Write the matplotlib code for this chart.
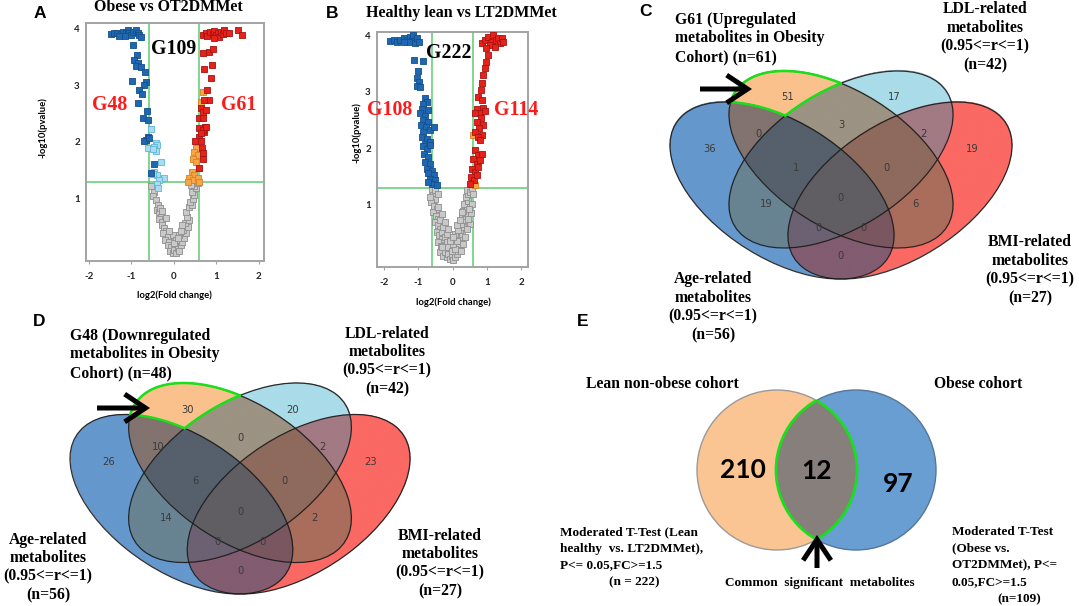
import numpy as np
import matplotlib
matplotlib.use("Agg")
import matplotlib.pyplot as plt
from matplotlib.patches import Ellipse, Circle, FancyArrowPatch

plt.rcParams['axes.unicode_minus'] = False

# ======================= DATA =======================
A_title = "Obese vs OT2DMMet"
B_title = "Healthy lean vs LT2DMMet"
A_tags = ["G48", "G109", "G61"]
B_tags = ["G108", "G222", "G114"]
x_ticks = [-2, -1, 0, 1, 2]
y_ticks = [1, 2, 3, 4]
fc_cut = 0.585   # log2(1.5)
p_cut = 1.3      # -log10(0.05)

# Panel A volcano points (log2 FC, -log10 p)
A_down = [(-1.48, 3.89), (-1.40, 3.91), (-1.33, 3.92), (-1.25, 3.89), (-1.19, 3.94), (-1.13, 3.91),
          (-1.09, 3.96), (-1.05, 3.92), (-1.01, 3.88), (-0.97, 3.94), (-0.89, 3.96), (-0.85, 3.91),
          (-0.82, 3.88), (-0.78, 3.85), (-1.16, 3.86), (-1.29, 3.87), (-0.97, 3.70), (-0.88, 3.53),
          (-0.93, 3.44), (-0.85, 3.38), (-0.89, 3.34), (-0.78, 3.32), (-0.67, 3.23), (-0.99, 3.08),
          (-0.66, 3.06), (-0.70, 3.00), (-0.82, 2.91), (-0.75, 2.85), (-0.85, 2.69), (-0.64, 2.55),
          (-0.72, 2.42), (-0.60, 2.39), (-0.62, 2.09), (-0.66, 2.04), (-0.70, 2.02), (-0.58, 2.07),
          (-0.46, 1.61), (-0.54, 1.45)]
A_down_small = [(-0.54, 2.23), (-0.42, 1.98), (-0.39, 1.95), (-0.46, 1.92), (-0.62, 1.90), (-0.42, 1.85),
                (-0.50, 1.87), (-0.31, 1.64), (-0.46, 1.48), (-0.39, 1.42), (-0.50, 1.43), (-0.23, 1.36),
                (-0.35, 1.33), (-0.39, 1.26), (-0.37, 1.19)]
A_ns = [(-0.54, 1.22), (-0.46, 1.13), (-0.50, 1.06), (-0.42, 0.98), (-0.38, 0.89), (-0.41, 0.81),
        (-0.34, 0.77), (-0.31, 0.69), (-0.36, 0.64), (-0.27, 0.60), (-0.28, 0.54), (-0.23, 0.49),
        (-0.19, 0.44), (-0.25, 0.40), (-0.15, 0.34), (-0.20, 0.28), (-0.11, 0.25), (-0.15, 0.19),
        (-0.07, 0.16), (-0.09, 0.09), (-0.03, 0.05), (0.01, 0.11), (0.05, 0.05), (0.09, 0.13),
        (0.13, 0.08), (0.17, 0.19), (0.20, 0.25), (0.24, 0.31), (0.28, 0.40), (0.22, 0.46),
        (0.32, 0.51), (0.27, 0.57), (0.36, 0.63), (0.31, 0.69), (0.28, 0.77), (0.36, 0.85),
        (0.42, 0.89), (0.38, 0.95), (0.44, 1.00), (0.48, 1.07), (0.42, 1.13), (0.52, 1.19),
        (0.48, 1.23), (0.56, 1.28), (0.40, 1.25), (-0.19, 0.66), (-0.03, 0.37), (0.05, 0.28),
        (0.13, 0.37), (0.20, 0.54), (0.01, 0.22), (0.09, 0.31), (-0.33, 0.84), (-0.11, 0.43),
        (0.17, 0.43), (-0.27, 0.79)]
A_up_small = [(0.52, 1.89), (0.48, 1.83), (0.56, 1.77), (0.44, 1.71), (0.52, 1.65), (0.42, 1.48),
              (0.48, 1.42), (0.36, 1.36), (0.44, 1.33), (0.56, 1.36), (0.32, 1.30), (0.60, 1.29),
              (0.675, 2.88), (0.64, 2.71), (0.52, 2.01), (0.58, 1.55)]
A_up = [(0.675, 3.88), (0.75, 3.91), (0.79, 3.86), (0.85, 3.94), (0.91, 3.89), (0.95, 3.95),
        (0.99, 3.88), (1.03, 3.92), (1.07, 3.85), (1.11, 3.94), (1.15, 3.89), (1.19, 3.96),
        (1.22, 3.91), (1.29, 3.92), (1.50, 3.96), (1.60, 3.88), (0.95, 3.82), (0.675, 3.56),
        (0.82, 3.58), (0.91, 3.64), (0.71, 3.29), (0.89, 3.35), (0.87, 3.12), (0.77, 2.91),
        (0.83, 2.74), (0.71, 2.74), (0.64, 2.59), (0.69, 2.53), (0.75, 2.56), (0.60, 2.42),
        (0.675, 2.42), (0.74, 2.27), (0.64, 2.21), (0.71, 2.18), (0.60, 2.09), (0.60, 2.24),
        (0.675, 2.21), (0.75, 2.27), (0.64, 2.15), (0.50, 2.02), (0.64, 2.01), (0.66, 1.89),
        (0.675, 1.80), (0.675, 1.71), (0.60, 1.54)]

# Panel B volcano points
B_down = [(-1.81, 3.90), (-1.71, 3.92), (-1.62, 3.89), (-1.52, 3.92), (-1.42, 3.95), (-1.33, 3.92),
          (-1.23, 3.98), (-1.18, 3.92), (-1.14, 4.00), (-1.09, 3.86), (-1.28, 3.88), (-1.04, 3.95),
          (-0.99, 3.89), (-1.40, 3.89), (-1.11, 3.56), (-0.85, 3.55), (-1.01, 3.36), (-1.04, 3.24),
          (-0.99, 3.18), (-1.04, 3.11), (-0.94, 3.09), (-0.80, 2.88), (-0.75, 2.82), (-0.85, 2.79),
          (-0.89, 2.70), (-0.72, 2.68), (-0.94, 2.62), (-0.80, 2.57), (-0.87, 2.50), (-0.70, 2.47),
          (-0.91, 2.41), (-0.78, 2.38), (-0.85, 2.29), (-0.65, 2.32), (-0.89, 2.20), (-0.75, 2.17),
          (-0.80, 2.08), (-0.65, 2.11), (-0.55, 2.38), (-0.85, 2.03), (-0.75, 1.99), (-0.65, 2.05),
          (-0.82, 1.90), (-0.70, 1.84), (-0.80, 1.75), (-0.65, 1.72), (-0.75, 1.63), (-0.60, 1.60),
          (-0.70, 1.55), (-0.55, 1.52), (-0.65, 1.46), (-0.51, 1.43), (-0.60, 1.37), (-0.46, 1.34),
          (-0.72, 1.40)]
B_up = [(0.85, 3.86), (0.94, 3.92), (1.04, 3.98), (1.14, 3.89), (1.18, 4.00), (1.28, 3.92),
        (1.33, 3.96), (1.38, 3.86), (1.43, 3.95), (1.09, 3.83), (1.23, 3.80), (0.99, 3.77),
        (1.47, 3.89), (1.04, 3.65), (0.99, 3.53), (0.94, 3.42), (0.89, 3.30), (0.85, 3.15),
        (0.83, 3.03), (0.75, 2.91), (0.87, 2.85), (0.70, 2.70), (0.89, 2.72), (0.80, 2.62),
        (0.65, 2.62), (0.94, 2.65), (0.83, 2.53), (0.70, 2.47), (0.89, 2.41), (0.77, 2.35),
        (0.65, 2.29), (0.85, 2.24), (0.73, 2.20), (0.80, 2.14), (0.65, 1.96), (0.75, 1.87),
        (0.60, 1.81), (0.70, 1.72), (0.56, 1.63), (0.65, 1.57), (0.75, 1.66), (0.54, 1.49),
        (0.63, 1.43), (0.51, 1.37), (0.70, 1.52), (0.85, 1.90), (0.80, 1.78)]
B_up_small = [(0.60, 2.24), (0.60, 1.40), (0.65, 1.34)]
B_ns = [(-0.60, 1.25), (-0.56, 1.16), (-0.51, 1.10), (-0.62, 1.04), (-0.53, 0.98), (-0.46, 0.92),
        (-0.56, 0.86), (-0.48, 0.80), (-0.41, 0.75), (-0.51, 0.69), (-0.43, 0.63), (-0.36, 0.57),
        (-0.46, 0.51), (-0.38, 0.45), (-0.31, 0.39), (-0.41, 0.33), (-0.33, 0.27), (-0.27, 0.21),
        (-0.36, 0.15), (-0.27, 0.09), (-0.17, 0.06), (-0.22, 0.15), (-0.12, 0.12), (-0.07, 0.04),
        (-0.02, 0.09), (0.02, 0.02), (0.07, 0.06), (0.12, 0.12), (0.17, 0.18), (0.22, 0.24),
        (0.15, 0.30), (0.25, 0.36), (0.19, 0.42), (0.29, 0.48), (0.22, 0.54), (0.31, 0.60),
        (0.25, 0.66), (0.34, 0.72), (0.29, 0.80), (0.36, 0.84), (0.31, 0.89), (0.41, 0.95),
        (0.34, 1.01), (0.44, 1.07), (0.38, 1.13), (0.46, 1.19), (0.41, 1.25), (0.51, 1.22),
        (0.56, 1.28), (-0.31, 0.51), (-0.22, 0.42), (-0.17, 0.33), (-0.12, 0.24), (-0.02, 0.18),
        (0.07, 0.21), (0.02, 0.30), (-0.07, 0.36), (0.12, 0.36), (-0.17, 0.48), (-0.27, 0.60),
        (-0.36, 0.72), (-0.22, 0.69), (0.07, 0.48), (-0.12, 0.57), (0.02, 0.42), (0.17, 0.54),
        (0.12, 0.63), (0.22, 0.72), (0.27, 0.86), (-0.65, 1.13), (0.60, 1.19), (0.58, 1.01),
        (0.54, 0.84), (0.51, 0.66), (-0.51, 1.25), (-0.41, 1.19), (0.48, 0.92), (-0.41, 0.95),
        (-0.31, 0.83), (0.46, 0.75), (0.41, 0.57), (0.36, 0.42), (0.31, 0.30), (0.25, 0.18),
        (-0.31, 0.24)]

# Venn panels C and D: region counts (A=Age, B=G61/G48, C=LDL, D=BMI)
venn_regions = ["A", "B", "C", "D", "AB", "BC", "CD", "ABC", "BCD", "AC", "ABCD", "BD", "ACD", "ABD", "AD"]
C_counts = [36, 51, 17, 19, 0, 3, 2, 1, 0, 19, 0, 6, 0, 0, 0]
D_counts = [26, 30, 20, 23, 10, 0, 2, 6, 0, 14, 0, 2, 0, 0, 0]
C_labels = ["G61 (Upregulated\nmetabolites in Obesity\nCohort) (n=61)",
            "LDL-related\nmetabolites\n(0.95<=r<=1)\n(n=42)",
            "BMI-related\nmetabolites\n(0.95<=r<=1)\n(n=27)",
            "Age-related\nmetabolites\n(0.95<=r<=1)\n(n=56)"]
D_labels = ["G48 (Downregulated\nmetabolites in Obesity\nCohort) (n=48)",
            "LDL-related\nmetabolites\n(0.95<=r<=1)\n(n=42)",
            "BMI-related\nmetabolites\n(0.95<=r<=1)\n(n=27)",
            "Age-related\nmetabolites\n(0.95<=r<=1)\n(n=56)"]
# Panel E
E_counts = [210, 12, 97]
E_sets = ["Lean non-obese cohort", "Obese cohort"]
E_left_note = ["Moderated T-Test (Lean", "healthy  vs. LT2DMMet),", "P<= 0.05,FC>=1.5", "(n = 222)"]
E_right_note = ["Moderated T-Test", "(Obese vs.", "OT2DMMet), P<=", "0.05,FC>=1.5", "(n=109)"]
E_common = "Common  significant  metabolites"

# ======================= STYLE / LAYOUT =======================
W, H = 1079, 606
fig = plt.figure(figsize=(W / 100, H / 100), dpi=100)

SERIF = "Liberation Serif"
SANS = "Lato"
GREEN = "#5CCD72"
LIME = "#19E01A"


def fx(px):
    return px / W


def fy(py):
    return 1 - py / H


def ftext(px, py, s, **kw):
    fig.text(fx(px), fy(py), s, **kw)


def volcano(rect, xlim, ylim, groups, ms):
    x0, y0, x1, y1 = rect
    ax = fig.add_axes([fx(x0), fy(y1), (x1 - x0) / W, (y1 - y0) / H])
    ax.axvline(-fc_cut, color=GREEN, lw=1.1, zorder=1)
    ax.axvline(fc_cut, color=GREEN, lw=1.1, zorder=1)
    ax.axhline(p_cut, color=GREEN, lw=1.1, zorder=1)
    for pts, fc, ec in groups:
        arr = np.array(pts)
        ax.scatter(arr[:, 0], arr[:, 1], s=ms, marker="s", c=fc, edgecolors=ec,
                   linewidths=0.6, zorder=3)
    ax.set_xlim(xlim)
    ax.set_ylim(ylim)
    ax.set_xticks(x_ticks)
    ax.set_yticks(y_ticks)
    for sp in ax.spines.values():
        sp.set_color("#A3A3A3")
        sp.set_linewidth(1.4)
    ax.tick_params(axis="x", length=2.5, width=0.8, color="#A3A3A3", pad=5.5, labelsize=7)
    ax.tick_params(axis="y", length=0, pad=4.5, labelsize=7)
    for lab in ax.get_xticklabels() + ax.get_yticklabels():
        lab.set_fontfamily(SANS)
        lab.set_fontweight("bold")
        lab.set_color("#222222")
    return ax


BLUE = ("#1F67B0", "#134F8C")
LBLUE = ("#A9DCEF", "#5EB6D6")
GREY = ("#C9C9C9", "#8E8E8E")
ORANGE = ("#F6A646", "#D5821E")
RED = ("#E5231B", "#A81212")

# ---- Panel A ----
axA = volcano((86, 23, 264, 261), (-2.07, 2.12), (-0.09, 4.09),
              [(A_ns,) + GREY, (A_down_small,) + LBLUE, (A_up_small,) + ORANGE,
               (A_down,) + BLUE, (A_up,) + RED], 16)
axA.text(-0.01, 3.63, A_tags[1], ha="center", va="center", family=SERIF, weight="bold", size=14.3, color="black")
axA.text(-1.52, 2.65, A_tags[0], ha="center", va="center", family=SERIF, weight="bold", size=14.3, color="#FF1A1A")
axA.text(1.52, 2.65, A_tags[2], ha="center", va="center", family=SERIF, weight="bold", size=14.3, color="#FF1A1A")
ftext(168, 7, A_title, ha="center", va="center", family=SERIF, weight="bold", size=11.5)
ftext(40, 13, "A", ha="center", va="center", family="Liberation Sans", weight="bold", size=12.5)
ftext(43, 128, "-log10(pvalue)", ha="center", va="center", rotation=90, family=SANS, weight="bold", size=6.8)
ftext(174, 295, "log2(Fold change)", ha="center", va="center", family=SANS, weight="bold", size=6.8)

# ---- Panel B ----
axB = volcano((377, 32, 528, 267), (-2.2, 2.2), (-0.11, 4.06),
              [(B_ns,) + GREY, (B_up_small,) + ORANGE, (B_down,) + BLUE, (B_up,) + RED], 13)
axB.text(-0.12, 3.68, B_tags[1], ha="center", va="center", family=SERIF, weight="bold", size=14.3, color="black")
axB.text(-1.83, 2.67, B_tags[0], ha="center", va="center", family=SERIF, weight="bold", size=14.3, color="#FF1A1A")
axB.text(1.86, 2.67, B_tags[2], ha="center", va="center", family=SERIF, weight="bold", size=14.3, color="#FF1A1A")
ftext(461, 13, B_title, ha="center", va="center", family=SERIF, weight="bold", size=11.5)
ftext(332, 13, "B", ha="center", va="center", family="Liberation Sans", weight="bold", size=12.5)
ftext(357, 133, "-log10(pvalue)", ha="center", va="center", rotation=90, family=SANS, weight="bold", size=6.8)
ftext(453, 302, "log2(Fold change)", ha="center", va="center", family=SANS, weight="bold", size=6.8)

# ---- Venn (C, D) ----
ELL = {"A": ((0.35, 0.47), -45), "B": ((0.50, 0.57), -45),
       "C": ((0.50, 0.57), 45), "D": ((0.65, 0.47), 45)}
EA, EB = 0.35, 0.20
REGION_COL = {"A": "#6598CD", "B": "#FAC18C", "C": "#AADCE9", "D": "#FB6964",
              "AB": "#82736F", "BC": "#9C9383", "CD": "#A27A84", "ABC": "#56606C",
              "BCD": "#8E6A5D", "AC": "#688392", "ABCD": "#605E63", "BD": "#AA6D5C",
              "ACD": "#6B6172", "ABD": "#7A5760", "AD": "#825C70"}
LABEL_POS = {"A": (0.165, 0.603), "B": (0.365, 0.770), "C": (0.635, 0.770), "D": (0.835, 0.603),
             "AB": (0.29, 0.653), "BC": (0.50, 0.681), "CD": (0.71, 0.653), "ABC": (0.385, 0.544),
             "BCD": (0.615, 0.544), "AC": (0.31, 0.427), "ABCD": (0.50, 0.446), "BD": (0.69, 0.427),
             "ACD": (0.443, 0.349), "ABD": (0.557, 0.349), "AD": (0.50, 0.258)}


def inside(key, X, Y):
    (cx, cy), ang = ELL[key]
    t = np.deg2rad(ang)
    dx, dy = X - cx, Y - cy
    u = dx * np.cos(t) + dy * np.sin(t)
    v = -dx * np.sin(t) + dy * np.cos(t)
    return (u / EA) ** 2 + (v / EB) ** 2 <= 1.0


def venn4(box, counts):
    bx0, bx1, by0, by1 = box
    sx = (bx1 - bx0) / 0.87
    sy = (by1 - by0) / 0.67
    left = bx0 - 0.065 * sx
    top = by0 - 0.145 * sy
    ax = fig.add_axes([fx(left), fy(top + sy), sx / W, sy / H])
    ax.set_xlim(0, 1)
    ax.set_ylim(0, 1)
    ax.set_axis_off()
    xs = np.linspace(0, 1, 1000)
    ys = np.linspace(0, 1, 1000)
    X, Y = np.meshgrid(xs, ys)
    m = {k: inside(k, X, Y) for k in "ABCD"}
    img = np.zeros(X.shape + (4,))
    for key, col in REGION_COL.items():
        mask = np.ones(X.shape, bool)
        for s in "ABCD":
            mask &= m[s] if s in key else ~m[s]
        img[mask, :3] = matplotlib.colors.to_rgb(col)
        img[mask, 3] = 1.0
    ax.imshow(img, extent=(0, 1, 0, 1), origin="lower", aspect="auto", interpolation="antialiased", zorder=1)
    for k in "ABCD":
        (cx, cy), ang = ELL[k]
        ax.add_patch(Ellipse((cx, cy), 2 * EA, 2 * EB, angle=ang, fill=False,
                             ec="#1A1A1A", lw=0.9, alpha=0.9, zorder=2, clip_on=False))
    # green outline around the region that belongs to set B only
    tt = np.linspace(0, 2 * np.pi, 2000)
    for k, need_in, need_out in [("B", [], ["A", "C", "D"]), ("A", ["B"], ["C", "D"]),
                                 ("C", ["B"], ["A", "D"])]:
        (cx, cy), ang = ELL[k]
        t = np.deg2rad(ang)
        px = cx + EA * np.cos(tt) * np.cos(t) - EB * np.sin(tt) * np.sin(t)
        py = cy + EA * np.cos(tt) * np.sin(t) + EB * np.sin(tt) * np.cos(t)
        ok = np.ones_like(px, bool)
        for s in need_in:
            ok &= inside(s, px, py)
        for s in need_out:
            ok &= ~inside(s, px, py)
        px = np.where(ok, px, np.nan)
        ax.plot(px, py, color=LIME, lw=1.8, zorder=3, clip_on=False, solid_capstyle="round")
    for key, n in zip(venn_regions, counts):
        x, y = LABEL_POS[key]
        ax.text(x, y, str(n), ha="center", va="center", family="DejaVu Sans", size=7.2, color="#3A3A3A", zorder=4)
    return ax


def arrow(p0, p1):
    fig.add_artist(FancyArrowPatch((fx(p0[0]), fy(p0[1])), (fx(p1[0]), fy(p1[1])),
                                   transform=fig.transFigure, arrowstyle="->,head_length=0.75,head_width=0.5",
                                   mutation_scale=20, lw=3.6, color="black", shrinkA=0, shrinkB=0,
                                   joinstyle="miter", capstyle="butt"))


SERIF_KW = dict(family=SERIF, weight="bold", size=11.3, linespacing=1.22)

# Panel C
venn4((670, 1012, 71, 279), C_counts)
ftext(646, 11, "C", ha="center", va="center", family="Liberation Sans", weight="bold", size=12.5)
ftext(675, 38.5, C_labels[0], ha="left", va="center", **SERIF_KW)
ftext(985, 37, C_labels[1], ha="center", va="center", **SERIF_KW)
ftext(1030, 270, C_labels[2], ha="center", va="center", **SERIF_KW)
ftext(713, 307, C_labels[3], ha="center", va="center", **SERIF_KW)
arrow((700, 89), (752, 89))

# Panel D
venn4((70, 410, 383, 594), D_counts)
ftext(39.5, 322, "D", ha="center", va="center", family="Liberation Sans", weight="bold", size=12.5)
ftext(70, 354.5, D_labels[0], ha="left", va="center", **SERIF_KW)
ftext(387, 361.5, D_labels[1], ha="center", va="center", **SERIF_KW)
ftext(440, 563.5, D_labels[2], ha="center", va="center", **SERIF_KW)
ftext(48, 567.5, D_labels[3], ha="center", va="center", **SERIF_KW)
arrow((97, 408), (150, 408))

# ---- Panel E ----
axE = fig.add_axes([fx(680), fy(565), 270 / W, 180 / H])
axE.set_xlim(680, 950)
axE.set_ylim(565, 385)
axE.set_axis_off()
oc, bc, r = (777, 470), (856, 470), 80
o_circ = Circle(oc, r, fc="#FAC593", ec="#9A9A9A", lw=1.0, zorder=1)
b_circ = Circle(bc, r, fc="#699ED2", ec="#56759A", lw=1.0, zorder=1)
axE.add_patch(o_circ)
axE.add_patch(b_circ)
lens = Circle(oc, r, fc="#877F7B", ec="none", zorder=2)
axE.add_patch(lens)
lens.set_clip_path(b_circ)
g1 = Circle(oc, r, fill=False, ec=LIME, lw=2.0, zorder=3)
axE.add_patch(g1)
g1.set_clip_path(b_circ)
g2 = Circle(bc, r, fill=False, ec=LIME, lw=2.0, zorder=3)
axE.add_patch(g2)
g2.set_clip_path(o_circ)
axE.text(743, 470, str(E_counts[0]), ha="center", va="center", family=SANS, weight="bold", size=19)
axE.text(817, 471, str(E_counts[1]), ha="center", va="center", family=SANS, weight="bold", size=19)
axE.text(898, 484, str(E_counts[2]), ha="center", va="center", family=SANS, weight="bold", size=19)

ftext(583, 322, "E", ha="center", va="center", family="Liberation Sans", weight="bold", size=12.5)
ftext(662, 384, E_sets[0], ha="center", va="center", family=SERIF, weight="bold", size=11.3)
ftext(978, 384, E_sets[1], ha="center", va="center", family=SERIF, weight="bold", size=11.3)
NOTE_KW = dict(family=SERIF, weight="bold", size=9.5, va="center", ha="left")
for i, line in enumerate(E_left_note):
    ftext(609 if i == 3 else 560, 532 + 16.7 * i, line, **NOTE_KW)
for i, line in enumerate(E_right_note):
    ftext(997 if i == 4 else 952, 532 + 16.7 * i, line, **NOTE_KW)
ftext(820, 583, E_common, ha="center", va="center", family=SERIF, weight="bold", size=9.5)
arrow((817, 568), (817, 535))

fig.savefig("out.png", dpi=100)
